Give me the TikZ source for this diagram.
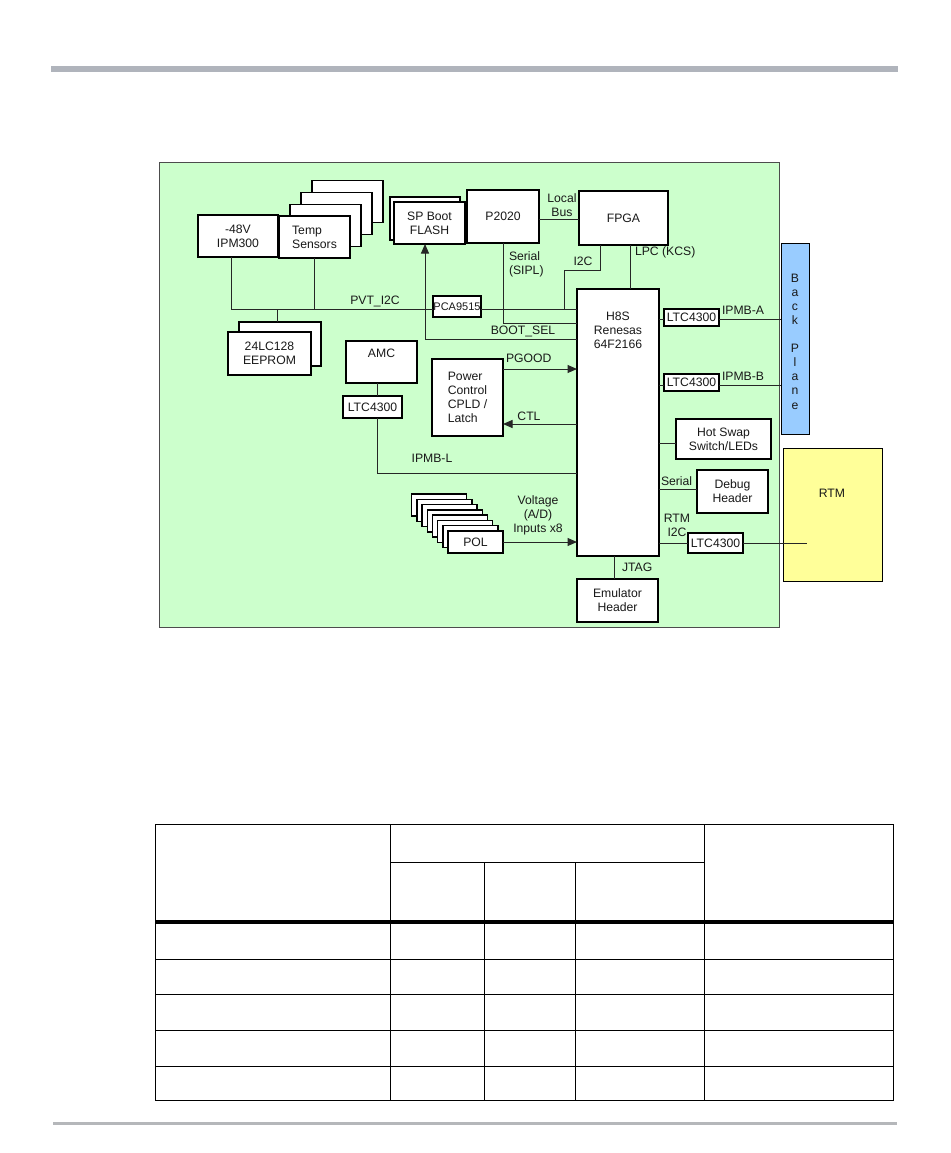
\documentclass[tikz,border=0pt]{standalone}
\usepackage{fontspec}
\setmainfont{Liberation Sans}
\usetikzlibrary{arrows.meta,calc}
\definecolor{panelgreen}{HTML}{CCFFCC}
\definecolor{bpblue}{HTML}{99CCFF}
\definecolor{rtmyellow}{HTML}{FFFF99}
\definecolor{rulegray}{HTML}{B0B4BC}
\definecolor{rulegrayb}{HTML}{B5B7BA}
\newcommand{\dfont}{\fontsize{12.2}{14}\selectfont}
\newcommand{\mybox}[6]{\node[box, minimum width={(#4-#2)*1pt}, minimum height={(#5-#3)*1pt}] (#1) at (#2,#3) {#6};}
\tikzset{
  box/.style={draw=black, line width=1.4pt, fill=white, inner sep=0pt, outer sep=0pt,
              anchor=north west, align=center, font=\dfont, text=black!90},
  lbl/.style={inner sep=0pt, outer sep=0pt, font=\dfont, text=black!90},
  ln/.style={draw=black!85, line width=1pt},
  arr/.style={draw=black!85, line width=1pt, -{Triangle[length=9.5pt,width=8pt]}},
  tline/.style={draw=black, line width=0.9pt},
}
\begin{document}
\begin{tikzpicture}[x=1pt,y=-1pt]
\useasboundingbox (0,0) rectangle (950,1153);
% page rules
\fill[rulegray] (51,66) rectangle (898,72);
\fill[rulegrayb] (53,1122) rectangle (897,1125);
% panel
\node[draw=black!70, line width=1pt, fill=panelgreen, inner sep=0pt, anchor=north west,
      minimum width=620pt, minimum height=465pt] (panel) at (159,162) {};
% boxes
\mybox{ipm}{198}{215}{278}{257}{-48V\\IPM300}
\foreach \k in {3,2,1} {
  \node[box, minimum width=71pt, minimum height=42pt] (temp\k) at ({279+11*\k},{216-11.8*\k}) {};
}
\node[box, minimum width=71pt, minimum height=42pt, align=left] (temp0) at (279,216) {Temp\\Sensors};
\mybox{flashb}{390}{197}{460}{240}{}
\mybox{flash}{394}{202}{465}{244}{SP Boot\\FLASH}
\mybox{p2020}{467}{190}{539}{243}{P2020}
\mybox{fpga}{579}{191}{668}{245}{FPGA}
\node[box, minimum width=48pt, minimum height=21pt, font=\fontsize{11}{12}\selectfont] (pca) at (433,296) {PCA9515};
\mybox{ee1}{239}{322}{321}{366}{}
\mybox{ee0}{228}{332}{311}{375}{24LC128\\EEPROM}
\mybox{amc}{346}{341}{417}{383}{}
\node[lbl] (amct) at (381.5,353) {AMC};
\mybox{ltcamc}{343}{396}{402}{418}{LTC4300}
\node[box, minimum width=71pt, minimum height=77pt, align=left] (power) at (432,359) {Power\\Control\\CPLD /\\Latch};
\mybox{h8s}{577}{289}{659}{556}{}
\node[lbl, align=center] (h8st) at (618,330) {H8S\\Renesas\\64F2166};
\mybox{ltcA}{664}{309}{719}{326}{LTC4300}
\mybox{ltcB}{664}{374}{719}{391}{LTC4300}
\node[draw=black, line width=1.4pt, fill=bpblue, inner sep=0pt, anchor=north west,
      minimum width=28pt, minimum height=191pt] (bp) at (781,243) {};
\node[lbl, align=center, font=\fontsize{12.2}{14.1}\selectfont] (bpt) at (795,341.5) {B\\a\\c\\k\\[14.1pt]P\\l\\a\\n\\e};
\mybox{hs}{676}{419}{771}{459}{Hot Swap\\Switch/LEDs}
\mybox{dbg}{697}{470}{768}{513}{Debug\\Header}
\mybox{ltcR}{688}{533}{743}{553}{LTC4300}
\node[draw=black, line width=1.4pt, fill=rtmyellow, inner sep=0pt, anchor=north west,
      minimum width=99pt, minimum height=133pt] (rtm) at (783,448) {};
\node[lbl] (rtmt) at (832,493) {RTM};
\mybox{emu}{577}{579}{658}{622}{Emulator\\Header}
\foreach \k in {7,6,...,1} {
  \node[box, minimum width=55pt, minimum height=22pt] (pol\k) at ({448-5.2*\k},{531-5.3*\k}) {};
}
\mybox{pol0}{448}{531}{503}{553}{POL}
% coordinates
\coordinate (busL) at (231,309);
\coordinate (eeJ) at (277,309);
\coordinate (i2cA) at (600,270);
\coordinate (i2cB) at (564,270);
\coordinate (serA) at (503,323);
\coordinate (bootA) at (425,339);
\coordinate (lb) at (560,219);
\coordinate (lpc) at (630,270);
\coordinate (pg) at (540,369);
\coordinate (ctl) at (540,424);
\coordinate (ipml) at (377,473);
\coordinate (ia) at (720,319);
\coordinate (ib) at (720,385);
\coordinate (hsy) at (670,443);
\coordinate (dby) at (670,489);
\coordinate (rtmEnd) at (807,543);
\coordinate (jt) at (614,567);
% connectors
\draw[ln] (ipm.south -| busL) -- (busL) -- (pca.west |- busL);
\draw[ln] (temp0.south) -- (temp0.south |- busL);
\draw[ln] (eeJ) -- (eeJ |- ee1.north);
\draw[ln] (pca.east |- busL) -- (h8s.west |- busL);
\draw[ln] (fpga.south -| i2cA) -- (i2cA) -- (i2cB) -- (i2cB |- busL);
\draw[ln] (p2020.south -| serA) -- (serA) -- (h8s.west |- serA);
\draw[arr] (h8s.west |- bootA) -- (bootA) -- (flash.south -| bootA);
\draw[ln] (p2020.east |- lb) -- (fpga.west |- lb);
\draw[ln] (fpga.south -| lpc) -- (h8s.north -| lpc);
\draw[arr] (power.east |- pg) -- (h8s.west |- pg);
\draw[arr] (h8s.west |- ctl) -- (power.east |- ctl);
\draw[ln] (amc.south -| ipml) -- (ltcamc.north -| ipml);
\draw[ln] (ltcamc.south -| ipml) -- (ipml) -- (h8s.west |- ipml);
\draw[arr] (pol0.east) -- (h8s.west |- pol0.east);
\draw[ln] (h8s.east |- ia) -- (ltcA.west |- ia);
\draw[ln] (ltcA.east |- ia) -- (bp.west |- ia);
\draw[ln] (h8s.east |- ib) -- (ltcB.west |- ib);
\draw[ln] (ltcB.east |- ib) -- (bp.west |- ib);
\draw[ln] (h8s.east |- hsy) -- (hs.west |- hsy);
\draw[ln] (h8s.east |- dby) -- (dbg.west |- dby);
\draw[ln] (h8s.east |- ltcR.west) -- (ltcR.west);
\draw[ln] (ltcR.east) -- (rtmEnd);
\draw[ln] (h8s.south -| jt) -- (emu.north -| jt);
% labels
\node[lbl] (pvtl) at (375,301) {PVT\_I2C};
\node[lbl, align=center] (lbl_lb) at (562,205) {Local\\Bus};
\node[lbl, align=left, anchor=west] (serl) at (509,264.5) {Serial\\(SIPL)};
\node[lbl] (i2cl) at (583,261) {I2C};
\node[lbl, anchor=west] (lpcl) at (635,252) {LPC (KCS)};
\node[lbl] (bootl) at (523,331) {BOOT\_SEL};
\node[lbl, anchor=west] (pgl) at (506,358) {PGOOD};
\node[lbl] (ctll) at (529,416) {CTL};
\node[lbl] (ipmbll) at (432,458) {IPMB-L};
\node[lbl, align=center] (voltl) at (538,515.5) {Voltage\\(A/D)\\Inputs x8};
\node[lbl, anchor=west] (ipmbal) at (722,310) {IPMB-A};
\node[lbl, anchor=west] (ipmbbl) at (722,376) {IPMB-B};
\node[lbl, anchor=west] (serl2) at (661,481) {Serial};
\node[lbl, align=center] (rtmi2cl) at (677,525) {RTM\\I2C};
\node[lbl, anchor=west] (jtagl) at (622,567) {JTAG};
% table
\draw[tline] (155,824) rectangle (893,1100);
\draw[tline] (390,824) -- (390,1100);
\draw[tline] (704,824) -- (704,1100);
\draw[tline] (484,862) -- (484,1100);
\draw[tline] (575,862) -- (575,1100);
\draw[tline] (390,862) -- (704,862);
\fill[black] (155,919.5) rectangle (893,923.5);
\draw[tline] (155,959) -- (893,959);
\draw[tline] (155,994) -- (893,994);
\draw[tline] (155,1030) -- (893,1030);
\draw[tline] (155,1066) -- (893,1066);
\end{tikzpicture}
\end{document}
